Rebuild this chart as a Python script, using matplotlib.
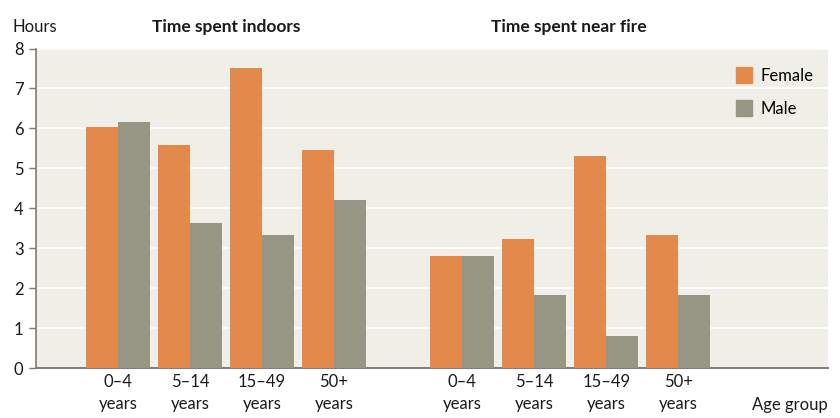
import numpy as np
import matplotlib
matplotlib.use("Agg")
from matplotlib import pyplot as plt
from matplotlib.patches import Patch

# DONNEES
age_groups = ['0–4\nyears', '5–14\nyears', '15–49\nyears', '50+\nyears']
indoors_female = [6.03, 5.58, 7.52, 5.46]
indoors_male = [6.16, 3.63, 3.33, 4.21]
fire_female = [2.81, 3.23, 5.31, 3.33]
fire_male = [2.81, 1.83, 0.81, 1.83]

# COULEURS
c_female = '#E3894B'
c_male = '#959683'
c_bg = '#EFEFE7'
c_axis = '#7D7D6C'

plt.rcParams['font.family'] = ['Lato', 'DejaVu Sans']
fs = 12

W, H = 840, 418
fig = plt.figure(figsize=(W / 100, H / 100), dpi=100)
ax = fig.add_axes([36 / W, (H - 368.3) / H, (828 - 36) / W, (368.3 - 48.5) / H])
ax.set_facecolor(c_bg)

w = 0.444
x_in = np.arange(len(age_groups))
x_fire = x_in + 4.78
ax.bar(x_in - w, indoors_female, w, align='edge', color=c_female, zorder=3)
ax.bar(x_in, indoors_male, w, align='edge', color=c_male, zorder=3)
ax.bar(x_fire - w, fire_female, w, align='edge', color=c_female, zorder=3)
ax.bar(x_fire, fire_male, w, align='edge', color=c_male, zorder=3)

ax.set_xlim(-1.139, 9.861)
ax.set_ylim(0, 8)
ax.set_yticks(range(9))
ax.set_xticks(np.concatenate([x_in, x_fire]))
ax.set_xticklabels(age_groups * 2, fontsize=fs, linespacing=1.5, color='#1a1a1a')
ax.tick_params(axis='x', length=0, pad=4)
ax.tick_params(axis='y', length=5, width=1, color=c_axis, pad=4, labelsize=fs, labelcolor='#1a1a1a')
ax.yaxis.grid(True, color='white', linewidth=1.2, zorder=1)
ax.set_axisbelow(True)
for s in ['top', 'right']:
    ax.spines[s].set_visible(False)
ax.spines['left'].set_color(c_axis)
ax.spines['bottom'].set_color(c_axis)
ax.spines['left'].set_linewidth(1.2)
ax.spines['bottom'].set_linewidth(1.4)

handles = [Patch(color=c_female, label='Female'), Patch(color=c_male, label='Male')]
ax.legend(handles=handles, loc='upper left', bbox_to_anchor=((729 - 36) / 792, 1 - (12 / 320)),
          frameon=False, fontsize=fs, handlelength=1.0, handleheight=1.05,
          handletextpad=0.5, labelspacing=1.0, borderaxespad=0)

fig.text(13 / W, 1 - 27 / H, 'Hours', fontsize=fs, va='center', ha='left', color='#1a1a1a')
fig.text(226 / W, 1 - 27 / H, 'Time spent indoors', fontsize=12.5, fontweight='bold', va='center', ha='center', color='#1a1a1a')
fig.text(569 / W, 1 - 27 / H, 'Time spent near fire', fontsize=12.5, fontweight='bold', va='center', ha='center', color='#1a1a1a')
fig.text(828 / W, 1 - 405 / H, 'Age group', fontsize=fs, va='center', ha='right', color='#1a1a1a')

fig.savefig('out.png', dpi=100, facecolor='white')
